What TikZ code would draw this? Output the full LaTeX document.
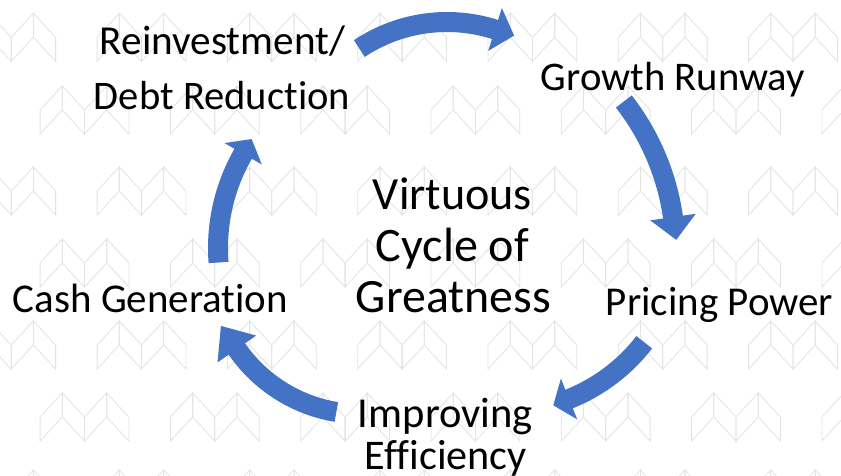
\documentclass[tikz,border=0pt]{standalone}
\usepackage{fontspec}
\setmainfont{Carlito}[Ligatures=NoCommon]
\usetikzlibrary{calc}
\definecolor{cycblue}{HTML}{4472C4}
\definecolor{patgray}{HTML}{E3E3E3}
\tikzset{
  patline/.style={draw=patgray, line width=0.8pt, line join=miter},
  motif/.pic={
    \foreach \pp in {0,44.4}{
      \draw[patline] (\pp,0) -- ({\pp-22.2},-24) -- ({\pp-22.2},-48) -- (\pp,-24) -- cycle;
      \draw[patline] (\pp,0) -- ({\pp+22.2},-24) -- ({\pp+22.2},-48) -- (\pp,-24) -- cycle;
    }
  },
  arrowbody/.style={draw=cycblue, line width=20pt},
  arrowhead/.style={fill=cycblue},
  lbl/.style={inner sep=0pt, outer sep=0pt, anchor=base, text=black},
}
\newcommand\fitw[2]{\resizebox{#1pt}{!}{#2}}
% name, centre x, centre y, radius, start angle, head-base angle, head length, head half width
\newcommand\cycarrow[8]{%
  \coordinate (#1c) at (#2,#3);
  \coordinate (#1b) at ($(#1c)+(#6:#4)$);
  \draw[arrowbody] ($(#1c)+(#5:#4)$) arc[start angle=#5, end angle={#6-0.8}, radius=#4];
  \fill[arrowhead] ($(#1c)+(#6:{#4+#8})$) -- ($(#1b)+({#6-90}:#7)$) -- ($(#1c)+(#6:{#4-#8})$) -- cycle;
}
\begin{document}
\begin{tikzpicture}[x=1pt,y=1pt]
\fill[white] (0,0) rectangle (841,475);
\useasboundingbox (0,0) rectangle (841,475);
\begin{scope}
  \clip (0,0) rectangle (841,475);
  \foreach \yy in {13.3,167,321,470}{\foreach \k in {0,...,6}{\pic at ({-11+130.3*\k},{475-\yy}) {motif};}}
  \foreach \yy in {86,239,393}{\foreach \k in {0,...,6}{\pic at ({62.3+130.3*\k},{475-\yy}) {motif};}}
\end{scope}

\cycarrow{aA}{407}{227}{189}{184.4}{150.1}{17}{21.5}
\cycarrow{aB}{447}{295}{158}{123.7}{72.3}{20}{22.5}
\cycarrow{aC}{430.5}{223}{245}{37.9}{8.2}{23}{23}
\cycarrow{aD}{502.6}{242.2}{179}{-37.7}{-68.2}{17}{22}
\cycarrow{aE}{361}{212}{151}{260.6}{214.7}{28}{23.5}

\node[lbl] (reinv) at (222.5,420) {\fitw{245}{Reinvestment/}};
\node[lbl] (debt) at (222,365) {\fitw{256}{Debt Reduction}};
\node[lbl] (growth) at (673,384.3) {\fitw{264}{Growth Runway}};
\node[lbl] (pricing) at (719.5,160) {\fitw{227}{Pricing Power}};
\node[lbl] (cash) at (150.5,163) {\fitw{275}{Cash Generation}};
\node[lbl] (improv) at (445.5,48) {\fitw{175}{Improving}};
\node[lbl] (effic) at (446,5.5) {\fitw{162}{Efficiency}};
\node[lbl] (virt) at (452.5,265) {\fitw{159}{Virtuous}};
\node[lbl] (cycle) at (452.5,213) {\fitw{153}{Cycle of}};
\node[lbl] (great) at (453.5,163) {\fitw{195}{Greatness}};
\end{tikzpicture}
\end{document}
